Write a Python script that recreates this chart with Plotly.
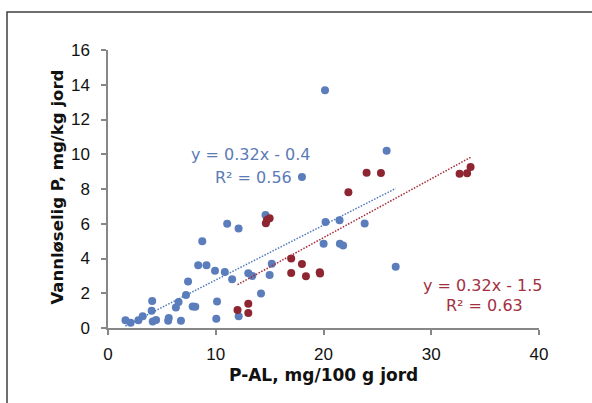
import numpy as np
import plotly.graph_objects as go

# ---- data ----
blue_x = [1.62, 2.1, 2.82, 3.22, 4.05, 4.1, 4.15, 4.46, 5.58, 5.64, 6.3, 6.55, 6.77, 7.24, 7.43,
          7.86, 8.1, 8.37, 8.75, 9.14, 9.93, 10.05, 10.12, 10.84, 11.06, 11.52, 12.12, 12.13,
          13.02, 13.4, 14.2, 14.62, 15.0, 15.2, 18.0, 20.01, 20.14, 20.19, 21.49, 21.52, 21.82,
          23.82, 25.86, 26.7]
blue_y = [0.45, 0.3, 0.45, 0.68, 1.0, 1.56, 0.37, 0.46, 0.42, 0.57, 1.18, 1.49, 0.42, 1.9, 2.68,
          1.24, 1.22, 3.61, 5.0, 3.61, 3.3, 0.53, 1.52, 3.22, 6.0, 2.81, 5.72, 0.68,
          3.15, 3.0, 1.99, 6.5, 3.05, 3.7, 8.69, 4.85, 13.69, 6.1, 6.2, 4.85, 4.75,
          6.02, 10.2, 3.53]

red_x = [12.02, 13.02, 13.02, 14.65, 14.75, 15.0, 17.0, 17.0, 18.0, 18.37, 19.65, 19.68,
         22.31, 24.0, 25.33, 32.63, 33.33, 33.65]
red_y = [1.03, 1.39, 0.87, 6.03, 6.22, 6.31, 4.0, 3.16, 3.68, 2.98, 3.21, 3.13,
         7.82, 8.94, 8.92, 8.88, 8.9, 9.27]

blue_eq = ["y = 0.32x - 0.4", "R² = 0.56"]
red_eq = ["y = 0.32x - 1.5", "R² = 0.63"]

x_ticks = [0, 10, 20, 30, 40]
y_ticks = [0, 2, 4, 6, 8, 10, 12, 14, 16]

x_title = "P-AL, mg/100 g jord"
y_title = "Vannløselig P, mg/kg jord"

BLUE = "#5B7DBB"
RED = "#8E2632"
BLUE_TXT = "#5B7BB6"
RED_TXT = "#A3303F"


def trend(xs, ys):
    k, b = np.polyfit(xs, ys, 1)
    xx = np.array([min(xs), max(xs)])
    return xx, k * xx + b


fig = go.Figure()

bx, by = trend(blue_x, blue_y)
rx, ry = trend(red_x, red_y)

fig.add_trace(go.Scatter(x=blue_x, y=blue_y, mode="markers",
                         marker=dict(color=BLUE, size=8, line=dict(width=0)),
                         showlegend=False))
fig.add_trace(go.Scatter(x=red_x, y=red_y, mode="markers",
                         marker=dict(color=RED, size=8, line=dict(width=0)),
                         showlegend=False))
fig.add_trace(go.Scatter(x=bx, y=by, mode="lines",
                         line=dict(color="#4F7AC0", width=1.5, dash="1.5px,1.5px"),
                         showlegend=False))
fig.add_trace(go.Scatter(x=rx, y=ry, mode="lines",
                         line=dict(color="#A52A38", width=1.5, dash="1.5px,1.5px"),
                         showlegend=False))

axis_common = dict(showgrid=False, zeroline=False, showline=True,
                   linecolor="#878787", linewidth=1.5, ticks="outside",
                   tickcolor="#878787", tickwidth=1.5, ticklen=5,
                   tickfont=dict(family="Liberation Sans", size=17, color="#111111"))

fig.update_xaxes(range=[0, 40], tickvals=x_ticks, ticktext=[str(v) for v in x_ticks],
                 ticklabelstandoff=5, **axis_common)
fig.update_yaxes(range=[0, 16], tickvals=y_ticks, ticktext=[str(v) for v in y_ticks],
                 ticklabelstandoff=8, **axis_common)

eq_font_b = dict(family="DejaVu Sans", size=16, color=BLUE_TXT)
eq_font_r = dict(family="DejaVu Sans", size=16, color=RED_TXT)

annotations = [
    dict(x=13.27, y=9.96, xref="x", yref="y", text=blue_eq[0], showarrow=False,
         font=eq_font_b, xanchor="center", yanchor="middle"),
    dict(x=13.5, y=8.69, xref="x", yref="y", text=blue_eq[1], showarrow=False,
         font=eq_font_b, xanchor="center", yanchor="middle"),
    dict(x=34.8, y=2.47, xref="x", yref="y", text=red_eq[0], showarrow=False,
         font=eq_font_r, xanchor="center", yanchor="middle"),
    dict(x=34.9, y=1.32, xref="x", yref="y", text=red_eq[1], showarrow=False,
         font=eq_font_r, xanchor="center", yanchor="middle"),
    dict(x=0.499, y=-0.169, xref="paper", yref="paper", text=x_title, showarrow=False,
         font=dict(family="DejaVu Sans", size=17, color="#111111", weight="bold"),
         xanchor="center", yanchor="middle"),
    dict(x=-0.116, y=0.505, xref="paper", yref="paper", text=y_title, showarrow=False,
         textangle=-90,
         font=dict(family="DejaVu Sans", size=16.5, color="#111111", weight="bold"),
         xanchor="center", yanchor="middle"),
]

# outer chart border (extends past right and bottom edges like the reference)
shapes = [dict(type="rect", xref="paper", yref="paper",
               x0=(7 - 108) / 431, x1=(600 - 108) / 431,
               y0=(328 - 420) / 278, y1=(328 - 12) / 278,
               line=dict(color="#3f3f3f", width=1.5), fillcolor="rgba(0,0,0,0)",
               layer="below")]

fig.update_layout(width=592, height=403,
                  margin=dict(l=108, r=53, t=50, b=75),
                  paper_bgcolor="white", plot_bgcolor="white",
                  annotations=annotations, shapes=shapes,
                  showlegend=False)

fig.write_html("out.html", config={"displayModeBar": False},
               post_script="document.body.style.margin='0px';document.body.style.padding='0px';")
